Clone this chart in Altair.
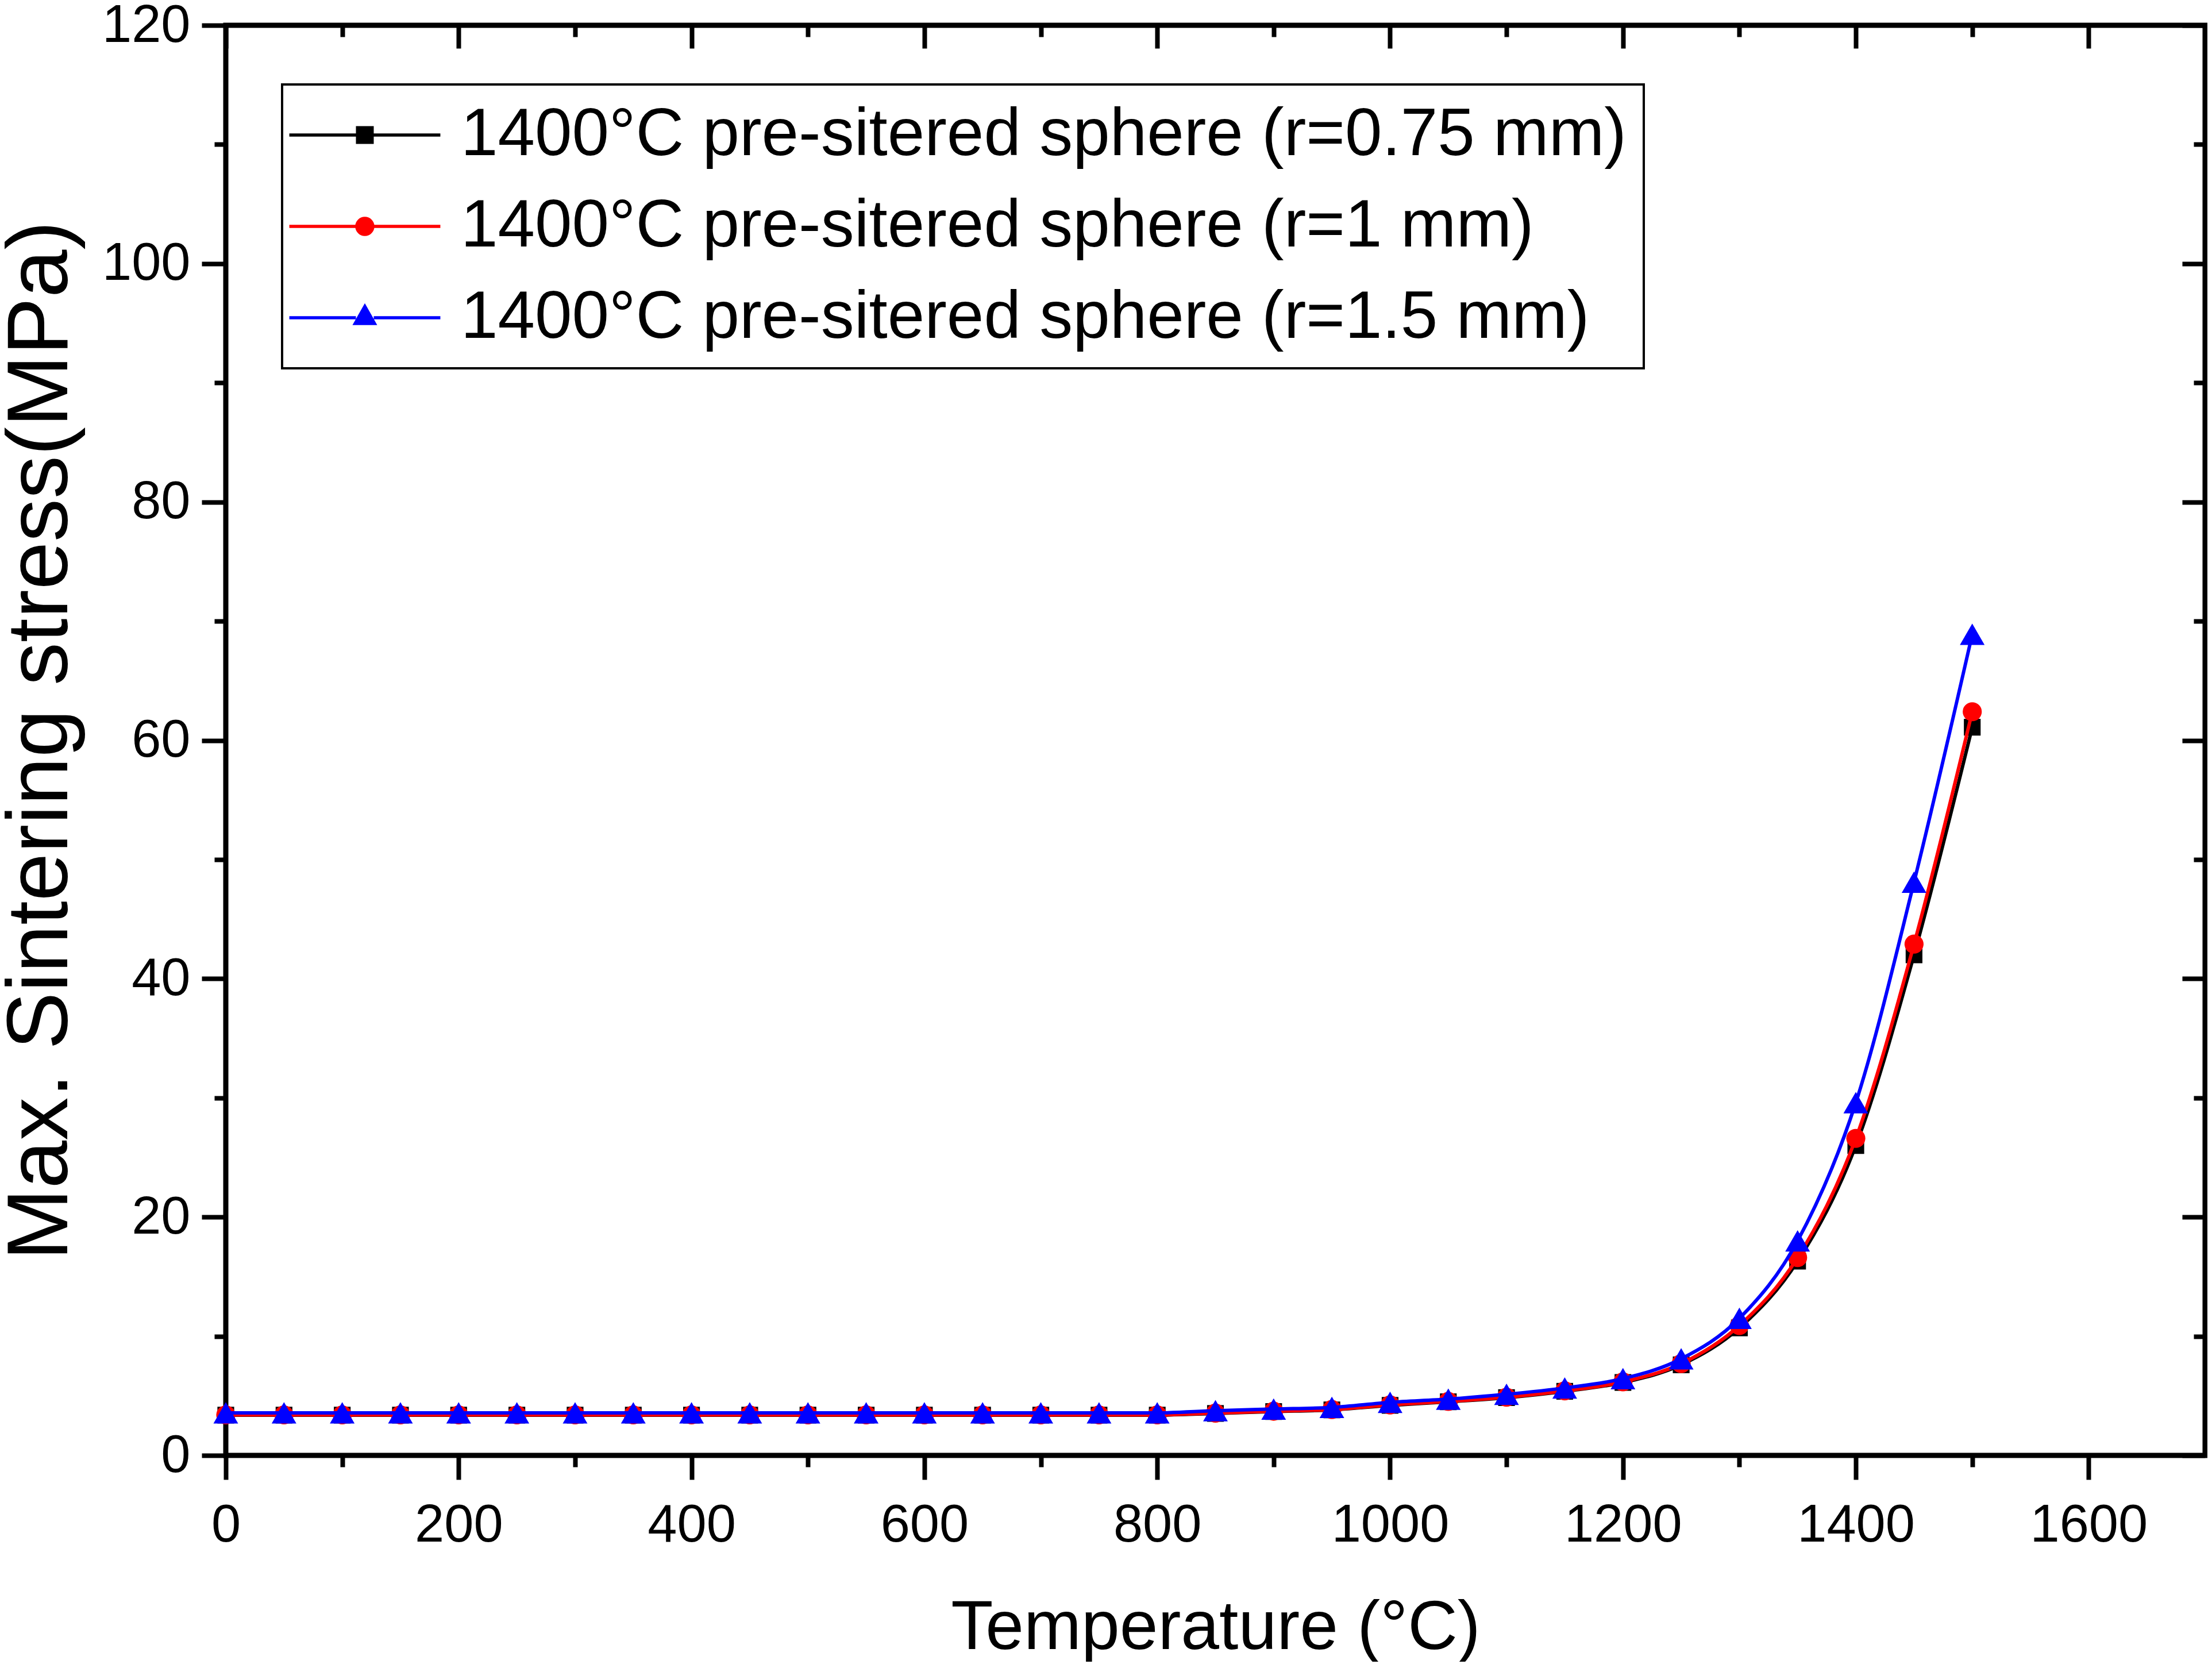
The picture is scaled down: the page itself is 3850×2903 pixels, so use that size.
import altair as alt
import pandas as pd

# ---------------- data ----------------
temperature = [0, 50, 100, 150, 200, 250, 300, 350, 400, 450, 500, 550, 600, 650,
               700, 750, 800, 850, 900, 950, 1000, 1050, 1100, 1150, 1200, 1250,
               1300, 1350, 1400, 1450, 1500]

stress_r075 = [3.38, 3.38, 3.38, 3.38, 3.38, 3.38, 3.38, 3.38, 3.38, 3.38, 3.38,
               3.38, 3.38, 3.38, 3.38, 3.38, 3.38, 3.52, 3.68, 3.82, 4.20, 4.50,
               4.85, 5.38, 6.12, 7.60, 10.7, 16.3, 26.0, 42.0, 61.1]

stress_r1 = [3.40, 3.40, 3.40, 3.40, 3.40, 3.40, 3.40, 3.40, 3.40, 3.40, 3.40,
             3.40, 3.40, 3.40, 3.40, 3.40, 3.40, 3.55, 3.71, 3.85, 4.24, 4.53,
             4.88, 5.42, 6.17, 7.70, 10.9, 16.6, 26.6, 42.9, 62.4]

stress_r15 = [3.57, 3.57, 3.57, 3.57, 3.57, 3.57, 3.57, 3.57, 3.57, 3.57, 3.57,
              3.57, 3.57, 3.57, 3.57, 3.57, 3.57, 3.75, 3.89, 4.03, 4.45, 4.72,
              5.13, 5.66, 6.44, 8.10, 11.5, 18.0, 29.6, 48.1, 68.9]

series_names = ["1400°C pre-sitered sphere (r=0.75 mm)",
                "1400°C pre-sitered sphere (r=1 mm)",
                "1400°C pre-sitered sphere (r=1.5 mm)"]
series_colors = ["#000000", "#FF0000", "#0000FF"]
marker_shapes = ["square", "circle", "triangle-up"]
marker_sizes = [850, 1100, 1850]

x_major = [0, 200, 400, 600, 800, 1000, 1200, 1400, 1600]
x_minor = [100, 300, 500, 700, 900, 1100, 1300, 1500]
y_major = [0, 20, 40, 60, 80, 100, 120]
y_minor = [10, 30, 50, 70, 90, 110]

rows = []
for name, vals in zip(series_names, [stress_r075, stress_r1, stress_r15]):
    for t, v in zip(temperature, vals):
        rows.append({"T": t, "S": v, "series": name})
df = pd.DataFrame(rows)

# legend symbols: line with marker in the middle (unit = marker half size)
seg = ("M-8.48,-0.17 L-1,-0.17 L-1,0.17 L-8.48,0.17 Z "
       "M1,-0.17 L8.48,-0.17 L8.48,0.17 L1,0.17 Z ")
legend_paths = [
    seg + "M-1,-1 L1,-1 L1,1 L-1,1 Z",
    seg + "M1.08,0 A1.08,1.08 0 1,1 -1.08,0 A1.08,1.08 0 1,1 1.08,0 Z",
    seg + "M0,-1.63 L1.39,0.82 L-1.39,0.82 Z",
]

# ---------------- layout ----------------
W, H = 3445, 2489
FONT = "Liberation Sans"

xscale = alt.Scale(domain=[0, 1700], nice=False, zero=False)
yscale = alt.Scale(domain=[0, 120], nice=False, zero=False)

base = alt.Chart(df)


def axis_layer(xaxis, yaxis):
    return base.mark_point(opacity=0).encode(
        x=alt.X("T:Q", scale=xscale, axis=xaxis),
        y=alt.Y("S:Q", scale=yscale, axis=yaxis),
    )


common_tick = dict(tickColor="black", tickWidth=8, domain=False, grid=False)

main_axes = axis_layer(
    alt.Axis(orient="bottom", values=x_major, format="d", tickSize=42,
             labelFont=FONT, labelFontSize=92, labelColor="black",
             labelPadding=34, labelFlush=False, labelOverlap=False,
             labelLimit=2000,
             title="Temperature (°C)", titleFont=FONT, titleFontSize=120,
             titleFontWeight="normal", titleColor="black",
             titleX=W / 2, titleY=336, titleBaseline="alphabetic",
             titleAlign="center", titleLimit=4000, **common_tick),
    alt.Axis(orient="left", values=y_major, format="d", tickSize=42,
             labelFont=FONT, labelFontSize=92, labelColor="black",
             labelPadding=20, labelFlush=False, labelOverlap=False,
             labelLimit=2000,
             title="Max. Sintering stress(MPa)", titleFont=FONT,
             titleFontSize=150, titleFontWeight="normal", titleColor="black",
             titleX=-277, titleY=H / 2, titleAngle=270,
             titleBaseline="alphabetic", titleAlign="center",
             titleLimit=4000, **common_tick),
)

minor_bl = axis_layer(
    alt.Axis(orient="bottom", values=x_minor, tickSize=20, labels=False,
             title=None, **common_tick),
    alt.Axis(orient="left", values=y_minor, tickSize=20, labels=False,
             title=None, **common_tick),
)

major_tr = axis_layer(
    alt.Axis(orient="top", values=x_major, tickSize=40, offset=-40,
             labels=False, title=None, **common_tick),
    alt.Axis(orient="right", values=y_major, tickSize=40, offset=-40,
             labels=False, title=None, **common_tick),
)

minor_tr = axis_layer(
    alt.Axis(orient="top", values=x_minor, tickSize=20, offset=-20,
             labels=False, title=None, **common_tick),
    alt.Axis(orient="right", values=y_minor, tickSize=20, offset=-20,
             labels=False, title=None, **common_tick),
)

series_layers = []
for name, col, shp, sz in zip(series_names, series_colors, marker_shapes, marker_sizes):
    sub = base.transform_filter(alt.datum.series == name)
    line = sub.mark_line(color=col, strokeWidth=6, interpolate="monotone").encode(
        x=alt.X("T:Q", scale=xscale, axis=None),
        y=alt.Y("S:Q", scale=yscale, axis=None),
    )
    pts = sub.mark_point(filled=True, shape=shp, size=sz, color=col, opacity=1).encode(
        x=alt.X("T:Q", scale=xscale, axis=None),
        y=alt.Y("S:Q", scale=yscale, axis=None),
    )
    series_layers += [line, pts]

leg = alt.Legend(
    title=None, orient="none", legendX=98, legendY=103, direction="vertical",
    padding=30, strokeColor="black", fillColor="white",
    labelFont=FONT, labelFontSize=116, labelColor="black", labelLimit=4000,
    symbolSize=961, symbolStrokeWidth=0, symbolOffset=56, labelOffset=109,
    rowPadding=43,
)

legend_layer = base.mark_point(filled=True, size=961, opacity=1).encode(
    color=alt.Color("series:N", scale=alt.Scale(domain=series_names, range=series_colors), legend=leg),
    shape=alt.Shape("series:N", scale=alt.Scale(domain=series_names, range=legend_paths), legend=leg),
).transform_filter("false")

chart = alt.layer(
    main_axes, minor_bl, major_tr, minor_tr, *series_layers, legend_layer
).resolve_axis(
    x="independent", y="independent"
).properties(
    width=W, height=H,
    padding={"left": 385, "top": 36, "right": 4, "bottom": 359},
    autosize=alt.AutoSizeParams(type="none"),
    background="white",
).configure(
    font=FONT,
).configure_view(
    stroke="black", strokeWidth=9,
).configure_legend(
    strokeWidth=4,
)

chart.save("out.html", embed_options={"renderer": "svg", "actions": False})
